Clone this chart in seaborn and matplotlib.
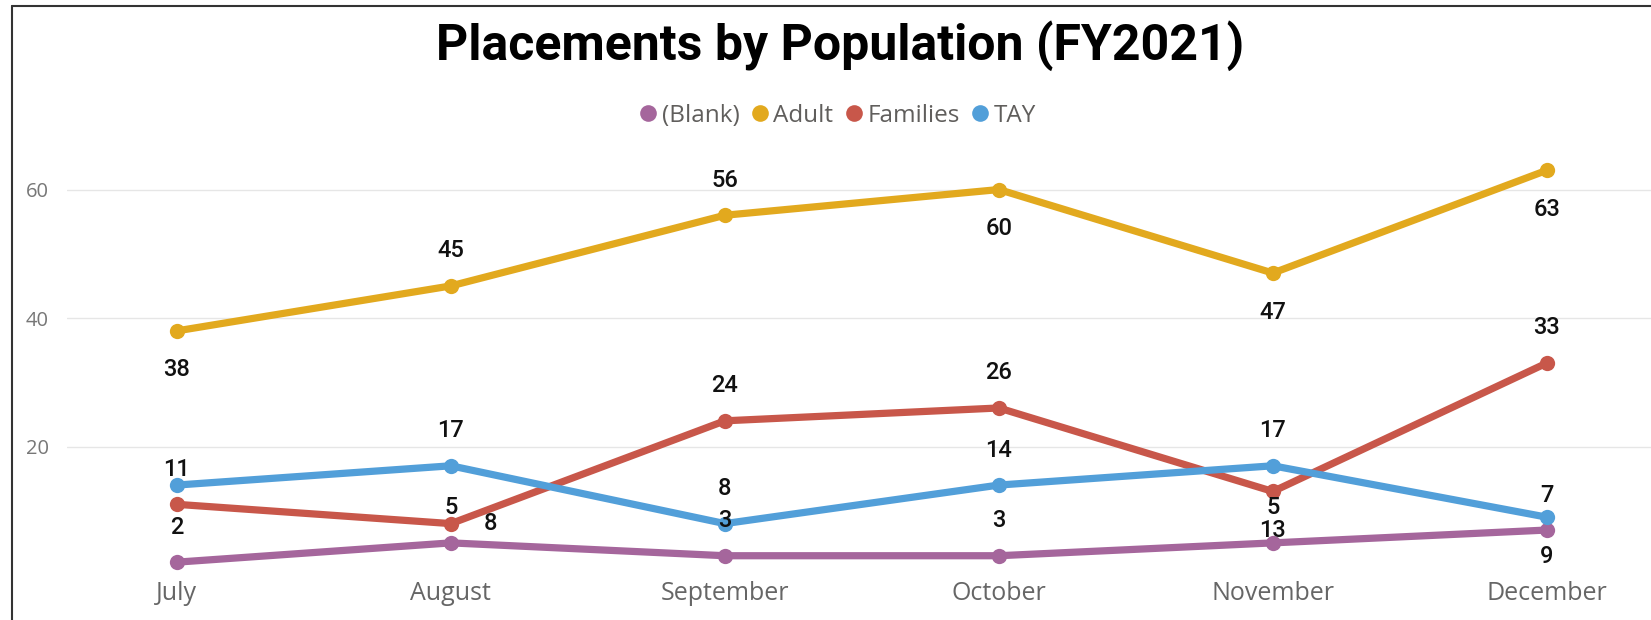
import matplotlib
matplotlib.use("Agg")
import pandas as pd
import seaborn as sns
from matplotlib import pyplot as plt
from matplotlib.lines import Line2D

# %% data
months = ["July", "August", "September", "October", "November", "December"]
series_names = ["(Blank)", "Adult", "Families", "TAY"]
blank = [2, 5, 3, 3, 5, 7]
adult = [38, 45, 56, 60, 47, 63]
families = [11, 8, 24, 26, 13, 33]
tay = [14, 17, 8, 14, 17, 9]
yticks = [20, 40, 60]

# where each data label sits relative to its point (None = hidden)
label_side = {
    "(Blank)": ["up", "up", "up", "up", "up", "up"],
    "Adult": ["down", "up", "up", "down", "down", "down"],
    "Families": ["up", "right", "up", "up", "down", "up"],
    "TAY": [None, "up", "up", "up", "up", "down"],
}
offsets = {"up": (0, 35), "down": (0, -39), "right": (40, 0)}

colors = ["#A5669C", "#E2A91E", "#C8574A", "#529FD9"]

df = pd.DataFrame({
    "month": months * 4,
    "series": [s for s in series_names for _ in months],
    "value": blank + adult + families + tay,
})

# %% plot
sns.set_style("white")
plt.rcParams["font.family"] = ["Open Sans", "DejaVu Sans"]

W, H = 1651, 620
fig = plt.figure(figsize=(W / 100, H / 100), dpi=100)
ax = fig.add_axes([67 / W, 45 / H, (W - 67) / W, 424 / H])

sns.lineplot(
    data=df, x="month", y="value", hue="series",
    hue_order=series_names, palette=colors,
    marker="o", markersize=11, markeredgewidth=0,
    linewidth=5.2, sort=False, legend=False, ax=ax,
)

for name, color in zip(series_names, colors):
    vals = df.loc[df["series"] == name, "value"].tolist()
    for i, (v, side) in enumerate(zip(vals, label_side[name])):
        if side is None:
            continue
        ax.annotate(
            str(v), (i, v), xytext=offsets[side], textcoords="offset pixels",
            ha="center", va="center", fontsize=17, color="#111111",
            family="Roboto", weight="medium",
        )

ax.set_xlim(-0.401, 5.38)
ax.set_ylim(0, 66)
ax.set_yticks(yticks)
ax.set_xlabel("")
ax.set_ylabel("")
ax.grid(axis="y", color="#E6E6E6", linewidth=1)
ax.grid(axis="x", visible=False)
sns.despine(ax=ax, left=True, bottom=True)
ax.tick_params(axis="y", length=0, pad=13, labelsize=14.5, labelcolor="#777777")
ax.tick_params(axis="x", length=0, pad=4, labelsize=18, labelcolor="#666666")

# title + legend
fig.text(840 / W, 1 - 46 / H, "Placements by Population (FY2021)",
         ha="center", va="center", fontsize=36, weight="bold",
         family="Roboto", color="black")
handles = [Line2D([], [], marker="o", linestyle="none", markersize=12,
                  markerfacecolor=c, markeredgewidth=0) for c in colors]
fig.legend(handles, series_names, loc="center",
           bbox_to_anchor=(836 / W, 1 - 116 / H), ncol=4, frameon=False,
           fontsize=17.5, handletextpad=0.05, columnspacing=0.35,
           labelcolor="#605E5C", borderaxespad=0, handlelength=1)

# frame lines (screenshot border)
fig.add_artist(Line2D([12 / W, 12 / W], [0, 1 - 6 / H], color="#333333", lw=1.5))
fig.add_artist(Line2D([12 / W, 1], [1 - 6 / H, 1 - 6 / H], color="#333333", lw=1.5))

plt.savefig("out.png", dpi=100)
plt.close()
